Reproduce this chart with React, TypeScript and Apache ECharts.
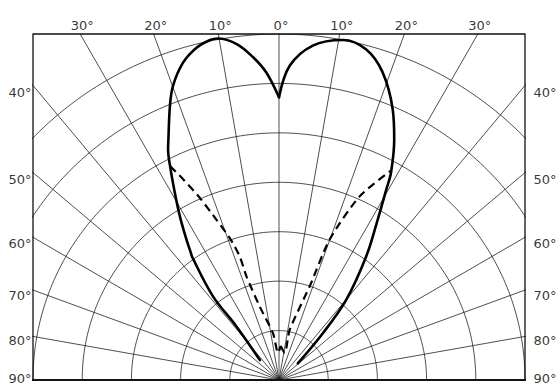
import { useEffect, useRef } from "react";
import * as echarts from "echarts";

// Polar pattern data: angle from the zenith (deg, negative = left), radius in ring units
const SOLID_LEFT_ANGLES = [-44, -38.6, -38.4, -35.4, -34.5, -33.5, -31.3, -29.2, -27.1, -25.8, -24.8, -21.8, -19.9, -16.9, -14.0, -11.5, -10.2, -7.2, -4.6, -2.4, 0];
const SOLID_LEFT_RADII = [0.56, 1.38, 2.16, 3.03, 3.2, 3.41, 3.88, 4.34, 4.86, 5.18, 5.36, 5.97, 6.33, 6.71, 6.93, 7.02, 7.02, 6.85, 6.55, 6.23, 5.72];
const SOLID_RIGHT_ANGLES = [0, 1.96, 5.8, 10.7, 14.8, 18.7, 22.9, 25.7, 28.5, 29.5, 32, 35.3, 40.1, 43.3, 48.7];
const SOLID_RIGHT_RADII = [5.72, 6.36, 6.8, 7.0, 6.92, 6.57, 5.94, 5.4, 4.77, 4.43, 3.75, 3.07, 2.12, 1.3, 0.51];
const DASHED_LEFT_ANGLES = [-27.1, -25.6, -23.6, -21.4, -19.2, -17.7, -17.5, -14.8, -7.3, -2, 3];
const DASHED_LEFT_RADII = [4.86, 4.5, 4.02, 3.48, 3.04, 2.62, 2.2, 1.54, 0.95, 0.55, 0.69];
const DASHED_RIGHT_ANGLES = [3, 12, 12.1, 18.2, 19.9, 23.8, 28.2];
const DASHED_RIGHT_RADII = [0.69, 0.56, 1.04, 1.99, 3.02, 4.06, 4.8];

// Grid construction
const RING_RADII = [1, 2, 3, 4, 5, 6, 7];
const SPOKE_ANGLES = [-90, -80, -70, -60, -50, -40, -30, -20, -10, 0, 10, 20, 30, 40, 50, 60, 70, 80, 90];
const TOP_LABEL_ANGLES = [-30, -20, -10, 0, 10, 20, 30];
const SIDE_LABEL_ANGLES = [40, 50, 60, 70, 80, 90];
const SIDE_LABEL_SHIFT = [7, 7, 6, 5, 4, -2];
const X_HALF = 5;
const Y_MAX = 7;

const rad = (a: number) => (a * Math.PI) / 180;
const toXY = (a: number, r: number) => [r * Math.sin(rad(a)), r * Math.cos(rad(a))];
const curve = (angles: number[], radii: number[]) => angles.map((a, i) => toXY(a, radii[i]));

export default function App() {
  const ref = useRef<HTMLDivElement>(null);
  useEffect(() => {
    if (!ref.current) return;
    const chart = echarts.init(ref.current, undefined, { renderer: "svg" });
    const gridColor = "#141414";
    const series: any[] = [];

    RING_RADII.forEach((r) => {
      const pts: number[][] = [];
      for (let a = -90; a <= 90; a += 1) pts.push(toXY(a, r));
      series.push({
        type: "line", data: pts, symbol: "none", clip: true, silent: true,
        lineStyle: { color: gridColor, width: 0.75 }, z: 1,
      });
    });
    SPOKE_ANGLES.forEach((a) => {
      series.push({
        type: "line", data: [[0, 0], toXY(a, 12)], symbol: "none", clip: true, silent: true,
        lineStyle: { color: gridColor, width: Math.abs(a) === 90 ? 2 : 0.75 }, z: 1,
      });
    });

    const curveStyle = { color: "#000", width: 2.6, cap: "round", join: "round" };
    series.push({ type: "line", data: curve(SOLID_LEFT_ANGLES, SOLID_LEFT_RADII), symbol: "none", smooth: 0.35, clip: true, lineStyle: curveStyle, z: 3 });
    series.push({ type: "line", data: curve(SOLID_RIGHT_ANGLES, SOLID_RIGHT_RADII), symbol: "none", smooth: 0.35, clip: true, lineStyle: curveStyle, z: 3 });
    const dashStyle = { color: "#000", width: 2.2, type: [8, 5] };
    series.push({ type: "line", data: curve(DASHED_LEFT_ANGLES, DASHED_LEFT_RADII), symbol: "none", smooth: 0.25, clip: true, lineStyle: dashStyle, z: 3 });
    series.push({ type: "line", data: curve(DASHED_RIGHT_ANGLES, DASHED_RIGHT_RADII), symbol: "none", smooth: 0.25, clip: true, lineStyle: dashStyle, z: 3 });

    const labelText = { fontFamily: "DejaVu Sans", fontSize: 13, color: "#000" };
    const labelSeries = (data: any[], position: string, distance: number) => ({
      type: "scatter", data, symbolSize: 1, clip: false, silent: true,
      itemStyle: { color: "rgba(0,0,0,0)" },
      label: { show: true, position, distance, formatter: (p: any) => p.name, ...labelText },
      z: 5,
    });
    series.push(labelSeries(
      TOP_LABEL_ANGLES.map((a) => ({ name: `${Math.abs(a)}°`, value: [Y_MAX * Math.tan(rad(a)), Y_MAX], label: { offset: [2, 0] } })),
      "top", 2));
    const side = (sign: number) =>
      SIDE_LABEL_ANGLES.map((a, i) => ({
        name: `${a}°`,
        value: [sign * X_HALF, X_HALF / Math.tan(rad(a))],
        label: { offset: [0, SIDE_LABEL_SHIFT[i]] },
      }));
    series.push(labelSeries(side(-1), "left", 1));
    series.push(labelSeries(side(1), "right", 8));

    chart.setOption({
      animation: false,
      backgroundColor: "#ffffff",
      grid: { left: 33, right: 35, top: 34, bottom: 8, show: true, borderColor: "#111", borderWidth: 1.3, backgroundColor: "#fff" },
      xAxis: { type: "value", min: -X_HALF, max: X_HALF, show: false },
      yAxis: { type: "value", min: 0, max: Y_MAX, show: false },
      series,
    });
    return () => chart.dispose();
  }, []);
  return <div ref={ref} style={{ position: "fixed", left: 0, top: 0, width: 560, height: 388, background: "#fff" }} />;
}
